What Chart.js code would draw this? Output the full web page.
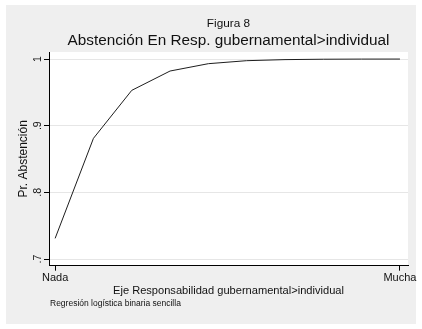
<!DOCTYPE html>
<html>
<head>
<meta charset="utf-8">
<script src="https://cdn.jsdelivr.net/npm/chart.js@4/dist/chart.umd.min.js"></script>
<style>
  html, body { margin: 0; padding: 0; background: #ffffff; }
  #wrap { width: 422px; height: 329px; }
</style>
</head>
<body>
<div id="wrap"><canvas id="c" width="422" height="329"></canvas></div>
<script>
// ---- data ----
const xValues = [0, 1, 2, 3, 4, 5, 6, 7, 8, 9];
const prAbstencion = [0.731, 0.881, 0.953, 0.982, 0.993, 0.9975, 0.9991, 0.9997, 0.9999, 0.99995];
const xTickValues = [0, 9];
const xTickLabels = ['Nada', 'Mucha'];
const yTickValues = [0.7, 0.8, 0.9, 1.0];
const yTickLabels = ['.7', '.8', '.9', '1'];
const titleText = 'Figura 8';
const subtitleText = 'Abstención En Resp. gubernamental>individual';
const xAxisTitle = 'Eje Responsabilidad gubernamental>individual';
const yAxisTitle = 'Pr. Abstención';
const noteText = 'Regresión logística binaria sencilla';

const FONT = "'Liberation Sans', Arial, Helvetica, sans-serif";

const bgPlugin = {
  id: 'bg',
  beforeDraw(chart) {
    const ctx = chart.ctx;
    const a = chart.chartArea;
    ctx.save();
    ctx.fillStyle = '#ffffff';
    ctx.fillRect(0, 0, chart.width, chart.height);
    ctx.fillStyle = '#efefef';
    ctx.fillRect(6, 5, 410, 319);
    ctx.fillStyle = '#ffffff';
    ctx.fillRect(a.left, a.top, a.right - a.left, a.bottom - a.top);
    ctx.restore();
  },
  afterDraw(chart) {
    const ctx = chart.ctx;
    ctx.save();
    ctx.fillStyle = '#111111';
    ctx.font = '8.5px ' + FONT;
    ctx.textAlign = 'left';
    ctx.textBaseline = 'middle';
    ctx.fillText(noteText, 50, 304);
    ctx.restore();
  }
};

new Chart(document.getElementById('c'), {
  type: 'line',
  data: {
    datasets: [{
      data: xValues.map((x, i) => ({ x: x, y: prAbstencion[i] })),
      borderColor: '#1e1e1e',
      borderWidth: 1,
      pointRadius: 0,
      tension: 0,
      fill: false
    }]
  },
  options: {
    responsive: false,
    animation: false,
    devicePixelRatio: 1,
    layout: { padding: { left: 0, top: 5, right: 14, bottom: 0 } },
    plugins: {
      legend: { display: false },
      tooltip: { enabled: false },
      title: {
        display: true,
        text: titleText,
        fullSize: false,
        color: '#111111',
        font: { family: FONT, size: 11.8, weight: 'normal' },
        padding: { top: 11.5, bottom: 0 }
      },
      subtitle: {
        display: true,
        text: subtitleText,
        fullSize: false,
        color: '#111111',
        font: { family: FONT, size: 15.3, weight: 'normal' },
        padding: { top: 1, bottom: 2 }
      }
    },
    scales: {
      x: {
        type: 'linear',
        min: -0.16,
        max: 9.21,
        afterBuildTicks(scale) { scale.ticks = xTickValues.map(v => ({ value: v })); },
        afterFit(scale) { scale.height = 329 - 265.7; },
        ticks: {
          autoSkip: false,
          maxRotation: 0,
          color: '#111111',
          padding: 1,
          font: { family: FONT, size: 11 },
          callback: (v) => xTickLabels[xTickValues.indexOf(v)]
        },
        grid: { drawOnChartArea: false, drawTicks: true, tickLength: 5, tickColor: '#000000', tickWidth: 1 },
        border: { display: true, color: '#000000', width: 1 },
        title: {
          display: true,
          text: xAxisTitle,
          color: '#111111',
          font: { family: FONT, size: 11.1 },
          padding: { top: 0, bottom: 31.5 }
        }
      },
      y: {
        type: 'linear',
        min: 0.69,
        max: 1.0105,
        afterBuildTicks(scale) { scale.ticks = yTickValues.map(v => ({ value: v })); },
        afterFit(scale) { scale.width = 49; },
        ticks: {
          autoSkip: false,
          minRotation: 90,
          maxRotation: 90,
          crossAlign: 'center',
          padding: 2,
          color: '#111111',
          font: { family: FONT, size: 10.5 },
          callback: (v) => yTickLabels[yTickValues.findIndex(t => Math.abs(t - v) < 1e-9)]
        },
        grid: { color: '#e6e6e6', lineWidth: 1, drawTicks: true, tickLength: 5, tickColor: '#000000', tickWidth: 1 },
        border: { display: true, color: '#000000', width: 1 },
        title: {
          display: true,
          text: yAxisTitle,
          color: '#111111',
          font: { family: FONT, size: 12 },
          padding: { top: 16, bottom: 0 }
        }
      }
    }
  },
  plugins: [bgPlugin]
});
</script>
</body>
</html>
